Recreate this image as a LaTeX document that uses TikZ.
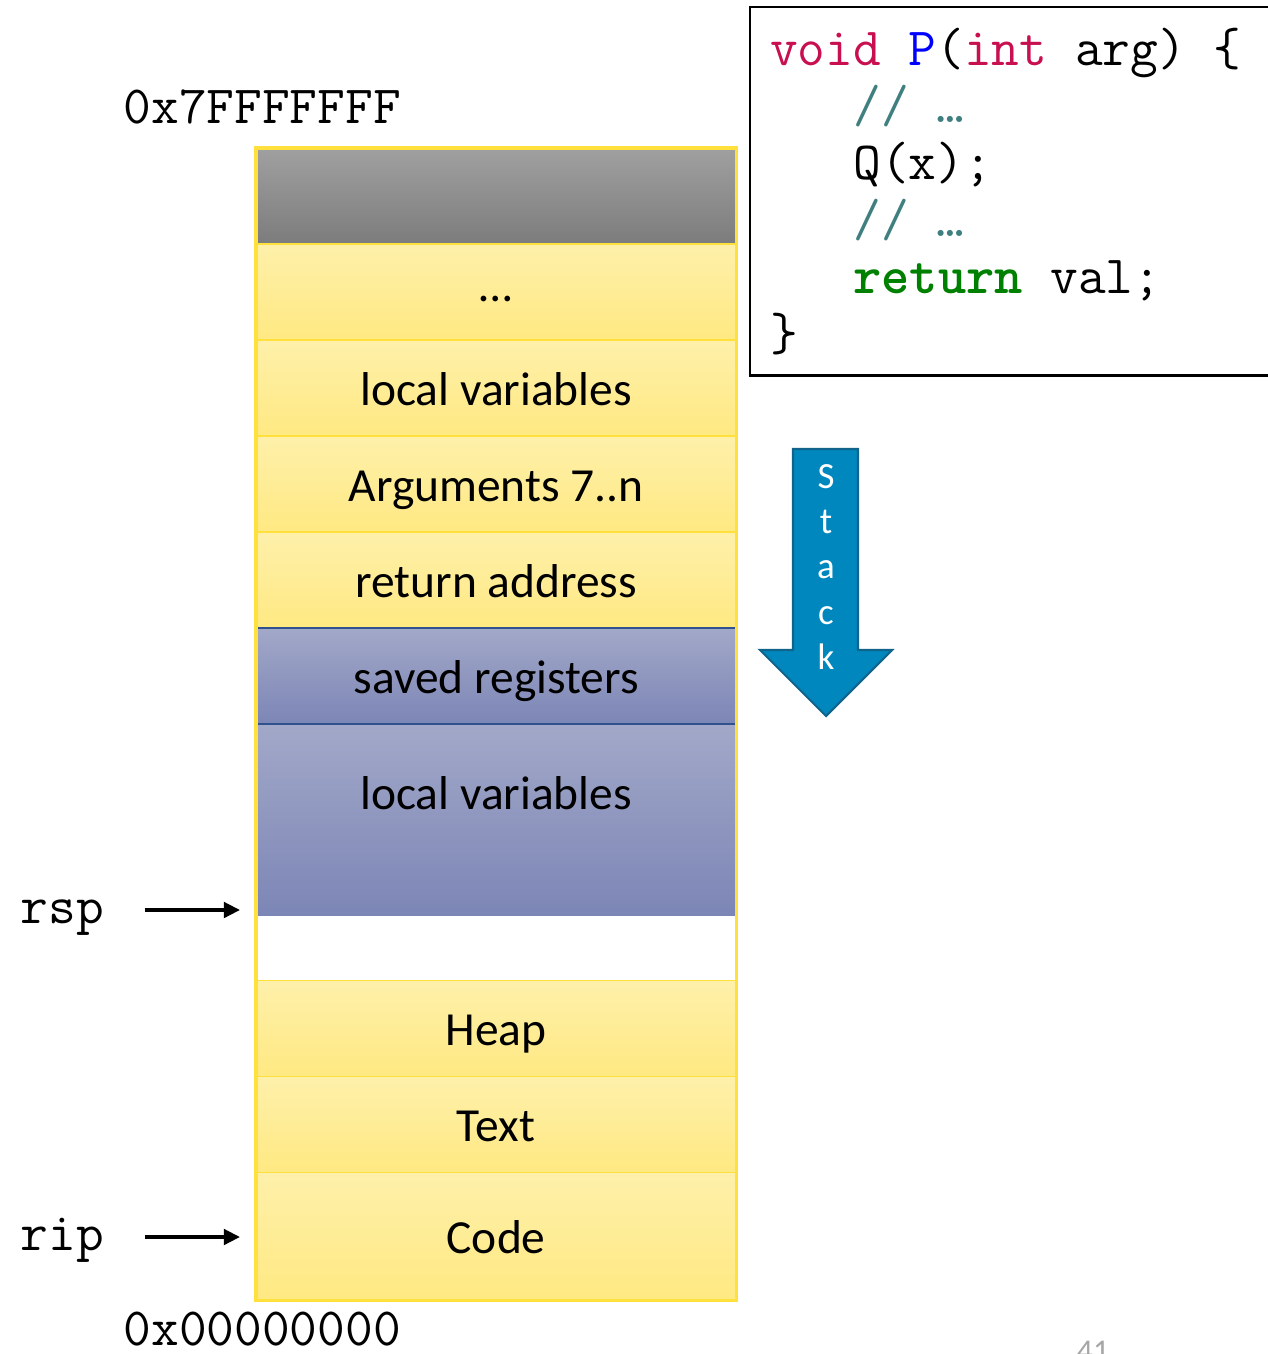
\documentclass[tikz,border=0pt]{standalone}
\usepackage{fontspec}
\setmainfont{Carlito}
\usepackage{xcolor}
\usepackage{tikz}
\usetikzlibrary{arrows, arrows.meta, positioning}

\definecolor{segtop}{RGB}{254,240,170}
\definecolor{segbot}{RGB}{255,233,130}
\definecolor{segedge}{RGB}{255,224,60}
\definecolor{greytop}{RGB}{160,160,160}
\definecolor{greybot}{RGB}{124,124,124}
\definecolor{frametop}{RGB}{162,168,200}
\definecolor{framebot}{RGB}{124,134,182}
\definecolor{frameedge}{RGB}{47,82,143}
\definecolor{growfill}{RGB}{0,136,190}
\definecolor{growedge}{RGB}{16,100,140}
\definecolor{kw}{RGB}{200,16,80}
\definecolor{fn}{RGB}{0,0,255}
\definecolor{cmt}{RGB}{63,127,127}
\definecolor{ret}{RGB}{0,128,0}

% one typewriter cell of blank
\newcommand\tsp{\hphantom{x}}

\tikzstyle{ptr} = [line width=1pt,->,>={Triangle[length=4.6pt,width=4.4pt]}]
\tikzstyle{memseg} = [rectangle, minimum width=4.8cm, minimum height=0.96cm, inner sep=0pt, outer sep=0pt, text height=11pt, text depth=1.4pt, draw=segedge, line width=0.5pt, top color=segtop, bottom color=segbot, font=\fontsize{13.5}{16.2}\selectfont]
\tikzstyle{greyseg} = [memseg, top color=greytop, bottom color=greybot]
\tikzstyle{frameseg} = [memseg, draw=frameedge, top color=frametop, bottom color=framebot]
\tikzstyle{gapseg} = [rectangle, minimum width=4.8cm, minimum height=0.64cm, inner sep=0pt, outer sep=0pt, fill=white]
\tikzstyle{colframe} = [draw=segedge, line width=0.9pt]
\tikzstyle{addr} = [inner sep=0pt, font=\ttfamily\fontsize{15.3}{18}\selectfont]
\tikzstyle{growarrow} = [fill=growfill, draw=growedge, line width=0.6pt]
\tikzstyle{growtext} = [text=white, align=center, font=\fontsize{10.5}{12.8}\selectfont]
\tikzstyle{srcbox} = [draw, line width=0.7pt, minimum width=5.6cm, minimum height=3.68cm, inner xsep=0.2cm, text width=5.2cm, align=left, font=\ttfamily\fontsize{15.3}{16.2}\selectfont]

\begin{document}
\begin{tikzpicture}[x=0.01cm, y=-0.01cm]
\useasboundingbox (0,0) rectangle (1268,1354);
%----------------------------------------------------------------------------
% Memory column, highest address on top
\node (unused) [greyseg, anchor=north west] at (256,148) {};
\node (dots) [memseg, below=0pt of unused, text height=7pt] {…};
\node (locals) [memseg, below=0pt of dots] {local variables};
\node (args) [memseg, below=0pt of locals] {Arguments 7..n};
\node (retaddr) [memseg, below=0pt of args] {return address};
\node (saved) [frameseg, below=0pt of retaddr] {saved registers};
\node (calleelocals) [frameseg, below=0pt of saved, minimum height=1.92cm, text depth=17.2pt] {local variables};
\node (gap) [gapseg, below=0pt of calleelocals] {};
\node (heap) [memseg, below=0pt of gap] {Heap};
\node (textseg) [memseg, below=0pt of heap] {Text};
\node (codeseg) [memseg, below=0pt of textseg, minimum height=1.28cm] {Code};
\draw [colframe] (unused.north west) rectangle (codeseg.south east);

% address range
\node (hiaddr) [addr, anchor=base west] at (123,123) {0x7FFFFFFF};
\node (loaddr) [addr, anchor=base west] at (123,1345) {0x00000000};

%----------------------------------------------------------------------------
% Registers pointing into the column
\node (rsp) [addr, anchor=base west] at (20,923) {rsp};
\node (rip) [addr, anchor=base west] at (20,1250) {rip};
\coordinate (rsptip) at (240,910);
\coordinate (riptip) at (240,1237);
\draw [ptr] (rsp.east |- rsptip) ++(40,0) -- (rsptip);
\draw [ptr] (rip.east |- riptip) ++(40,0) -- (riptip);

%----------------------------------------------------------------------------
% Growth direction
\path [growarrow] (793,449) -- (858,449) -- (858,650) -- (892,650) -- (826,716) -- (760,650) -- (793,650) -- cycle;
\node (growlbl) [growtext] at (826,567) {S\\t\\a\\c\\k};

%----------------------------------------------------------------------------
% Caller source
\node (src) [srcbox, anchor=north west] at (749,6) {%
\textcolor{kw}{void}\tsp\textcolor{fn}{P}(\textcolor{kw}{int}\tsp arg)\tsp\{\\
\tsp\tsp\tsp\textcolor{cmt}{//\tsp…}\\
\tsp\tsp\tsp Q(x);\\
\tsp\tsp\tsp\textcolor{cmt}{//\tsp…}\\
\tsp\tsp\tsp\textcolor{ret}{\textbf{return}}\tsp val;\\
\}};

\node (pgno) [anchor=base, text=gray!70, font=\fontsize{9}{10}\selectfont] at (1093,1361) {41};

\end{tikzpicture}
\end{document}
